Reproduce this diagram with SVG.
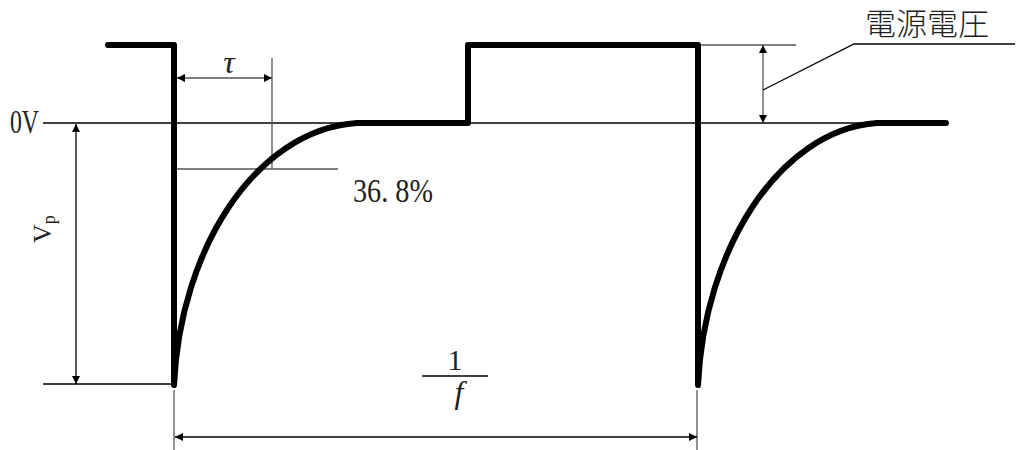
<svg xmlns="http://www.w3.org/2000/svg" width="1016" height="450" viewBox="0 0 1016 450">
<style>
.wave{fill:none;stroke:#000;stroke-width:6;stroke-linecap:round;stroke-linejoin:round}
.thin{fill:none;stroke:#000;stroke-width:1.3}
.gray{fill:none;stroke:#555;stroke-width:1.3}
.lbl{fill:#222}
.cjk{fill:#222;font-weight:300}
</style>
<defs>
<marker id="ah" viewBox="0 0 10 10" refX="10" refY="5" markerWidth="10" markerHeight="8" markerUnits="userSpaceOnUse" orient="auto-start-reverse">
<path d="M0,0 L10,5 L0,10 z" fill="#000"/>
</marker>
</defs>
<rect width="1016" height="450" fill="#fff"/>
<g id="connectors">
<line class="thin" x1="43" y1="123" x2="900" y2="123"/>
<line class="thin" x1="43" y1="384" x2="172" y2="384"/>
<line class="thin" x1="76" y1="124" x2="76" y2="384" marker-start="url(#ah)" marker-end="url(#ah)"/>
<line class="gray" x1="272" y1="58" x2="272" y2="169"/>
<line class="gray" x1="177" y1="78" x2="272" y2="78" marker-start="url(#ah)" marker-end="url(#ah)"/>
<line class="gray" x1="177" y1="169" x2="338" y2="169"/>
<line class="gray" x1="700" y1="45" x2="796" y2="45"/>
<line class="gray" x1="763" y1="45" x2="763" y2="123" marker-start="url(#ah)" marker-end="url(#ah)"/>
<polyline class="thin" points="763,90 854,44 1015,44"/>
<line class="gray" x1="174" y1="390" x2="174" y2="450"/>
<line class="gray" x1="697" y1="390" x2="697" y2="450"/>
<line class="thin" x1="175" y1="437" x2="697" y2="437" marker-start="url(#ah)" marker-end="url(#ah)"/>
<line class="thin" x1="422" y1="376" x2="488" y2="376"/>
</g>
<g id="waveform">
<path class="wave" d="M108,45 L174,45 L174,385 C180,250 255,130 357,123 L468,123 L468,45 L698,45 L698,385 C704,250 779,130 877,123 L946,123"/>
</g>
<g id="label-0v"><text class="lbl" font-family="'Liberation Serif', 'DejaVu Serif', serif" x="10" y="133" font-size="33" textLength="29" lengthAdjust="spacingAndGlyphs">0V</text></g>
<g id="label-vp"><text class="lbl" font-family="'Liberation Serif', 'DejaVu Serif', serif" transform="translate(51,243) rotate(-90)" font-size="26">V<tspan font-size="18" dy="4">p</tspan></text></g>
<g id="label-tau"><text class="lbl" font-family="'Liberation Serif', 'DejaVu Serif', serif" x="229" y="73" font-size="32" font-style="italic" text-anchor="middle">τ</text></g>
<g id="label-368"><text class="lbl" font-family="'Liberation Serif', 'DejaVu Serif', serif" x="353" y="202" font-size="33" textLength="80" lengthAdjust="spacingAndGlyphs">36. 8%</text></g>
<g id="label-supply"><text class="cjk" font-family="'Noto Sans CJK JP', sans-serif" x="865" y="35" font-size="31">電源電圧</text></g>
<g id="label-freq">
<text class="lbl" font-family="'Liberation Serif', 'DejaVu Serif', serif" x="455" y="370" font-size="30" text-anchor="middle">1</text>
<text class="lbl" font-family="'Liberation Serif', 'DejaVu Serif', serif" x="459" y="403" font-size="32" font-style="italic" text-anchor="middle">f</text>
</g>
</svg>
